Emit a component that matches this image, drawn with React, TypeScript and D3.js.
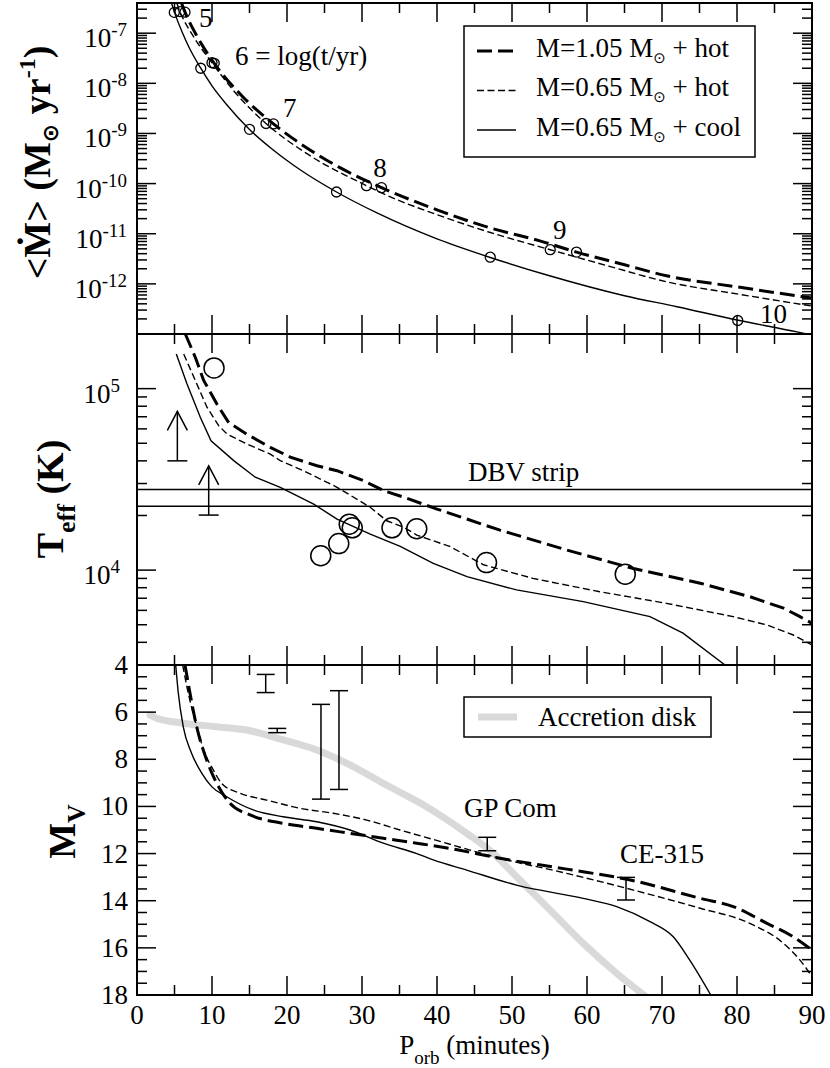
import React from 'react';
import * as d3 from 'd3';

// ---------------- DATA ----------------
// Top panel: <Mdot> (Msun/yr) vs P_orb (min)
const topThickP = [5.93, 6.4, 8, 10.3, 14, 18.2, 22.6, 27, 32.6, 40, 47, 53.7, 58.6, 65, 70.6, 80, 90];
const topThickM = [4.0e-7, 2.63e-7, 8.7e-8, 2.5e-8, 5.6e-9, 1.55e-9, 5.2e-10, 2.1e-10, 8.3e-11, 3.0e-11, 1.32e-11, 7.2e-12, 4.3e-12, 2.4e-12, 1.45e-12, 8.7e-13, 5.2e-13];
const topThinP = [5.3, 5.73, 7.5, 10, 13, 17.2, 22.6, 30.6, 33.7, 40, 47, 55.1, 63, 70.6, 80, 90];
const topThinM = [4.0e-7, 2.7e-7, 8.7e-8, 2.57e-8, 6.8e-9, 1.58e-9, 4.0e-10, 9.1e-11, 5.5e-11, 2.4e-11, 1.07e-11, 4.8e-12, 2.24e-12, 1.1e-12, 6.3e-13, 3.6e-13];
const topCoolP = [4.6, 5, 6, 7, 8.5, 10, 12, 15, 18, 22, 26.6, 32, 40, 47, 55, 65, 72, 80, 88, 90];
const topCoolM = [4.0e-7, 2.6e-7, 1.07e-7, 5.0e-8, 2.0e-8, 8.9e-9, 3.7e-9, 1.2e-9, 4.9e-10, 1.78e-10, 6.8e-11, 2.6e-11, 7.9e-12, 3.4e-12, 1.45e-12, 5.8e-13, 3.5e-13, 1.9e-13, 1.1e-13, 9.5e-14];
// time markers (log t = 5..10)
const markCoolP = [4.97, 8.5, 15, 26.6, 47.1, 80.1];
const markCoolM = [2.6e-7, 2.0e-8, 1.21e-9, 6.8e-11, 3.4e-12, 1.86e-13];
const markThinP = [5.73, 10, 17.2, 30.6, 55.1];
const markThinM = [2.7e-7, 2.57e-8, 1.58e-9, 9.1e-11, 4.8e-12];
const markThickP = [6.4, 10.3, 18.2, 32.6, 58.6];
const markThickM = [2.63e-7, 2.5e-8, 1.55e-9, 8.3e-11, 4.3e-12];
const timeLabels = ['5', '6 = log(t/yr)', '7', '8', '9', '10'];
const timeLabelP = [8.27, 13.07, 19.47, 31.5, 55.47, 83.07];
const timeLabelM = [1.33e-7, 2.3e-8, 2.16e-9, 1.37e-10, 7.9e-12, 1.65e-13];

// Middle panel: Teff (K)
const midThickP = [6.44, 7.77, 8.89, 10.67, 12.23, 14.67, 17.77, 20.44, 24.0, 26.67, 30.2, 32.9, 35.6, 40, 48.4, 57.3, 66.2, 75.1, 81.7, 86.2, 88.4, 90];
const midThickT = [2.0e5, 1.49e5, 1.11e5, 8.2e4, 6.5e4, 5.6e4, 4.75e4, 4.19e4, 3.76e4, 3.53e4, 3.11e4, 2.74e4, 2.52e4, 2.17e4, 1.66e4, 1.29e4, 1.02e4, 8.47e3, 7.14e3, 6.17e3, 5.54e3, 5.09e3];
const midThinP = [6.23, 7.77, 9.33, 10.89, 12.0, 14.67, 17.77, 19.1, 22.2, 26.67, 31.1, 33.3, 35.6, 37.3, 41.7, 46.2, 52.8, 61.7, 70.6, 79.5, 84.0, 87.5, 90];
const midThinT = [1.55e5, 1.11e5, 7.9e4, 6.25e4, 5.62e4, 4.95e4, 4.36e4, 4.01e4, 3.53e4, 2.86e4, 2.22e4, 1.87e4, 1.72e4, 1.56e4, 1.35e4, 1.07e4, 9.0e3, 7.6e3, 6.56e3, 5.54e3, 4.99e3, 4.39e3, 3.87e3];
const midCoolP = [5.24, 6.67, 8.44, 9.87, 12.9, 15.77, 19.1, 23.56, 26.67, 31.1, 35.1, 39.5, 44, 50.6, 59.5, 68.4, 72.8, 78.4];
const midCoolT = [1.55e5, 1.06e5, 6.95e4, 5.16e4, 4.01e4, 3.25e4, 2.86e4, 2.31e4, 1.91e4, 1.58e4, 1.35e4, 1.09e4, 9.2e3, 7.78e3, 6.7e3, 5.54e3, 4.49e3, 3.0e3];
const obsTP = [10.27, 24.5, 26.9, 28.3, 28.7, 34.0, 37.3, 46.6, 65.1];
const obsT = [1.30e5, 1.20e4, 1.40e4, 1.79e4, 1.71e4, 1.71e4, 1.69e4, 1.10e4, 9.5e3];
const limitP = [5.38, 9.56];
const limitT = [4.0e4, 2.01e4];
const limitTip = [7.5e4, 3.75e4];
const dbvStrip = [2.25e4, 2.78e4];

// Bottom panel: M_V
const botThickP = [6.4, 7.07, 7.96, 9.29, 10.63, 12.4, 15.07, 19.5, 23.96, 28.4, 32.84, 37.3, 41.7, 48.4, 57.3, 66.2, 75.1, 79.5, 84.0, 87.5, 90];
const botThickV = [4.0, 5.2, 6.62, 8.03, 9.02, 9.87, 10.36, 10.72, 10.93, 11.14, 11.35, 11.56, 11.78, 12.2, 12.66, 13.15, 13.9, 14.25, 14.96, 15.53, 16.09];
const botThinP = [6.09, 6.84, 7.96, 9.07, 10.17, 11.29, 13.73, 17.29, 21.73, 26.17, 30.63, 35.07, 39.5, 48.4, 57.3, 66.2, 75.1, 81.7, 86.2, 88.4, 90];
const botThinV = [4.0, 5.2, 6.62, 7.75, 8.45, 9.02, 9.44, 9.73, 10.08, 10.29, 10.58, 11.0, 11.4, 12.2, 12.84, 13.55, 14.32, 14.96, 15.81, 16.52, 17.22];
const botCoolP = [5.16, 5.51, 6.17, 7.29, 8.63, 9.96, 11.96, 15.5, 19.5, 23.96, 28.4, 32.84, 37.3, 39.5, 43.96, 50.6, 59.5, 63.96, 68.4, 71.5, 73.7, 76.5];
const botCoolV = [4.0, 5.2, 6.62, 7.75, 8.59, 9.16, 9.59, 10.15, 10.44, 10.65, 11.0, 11.56, 12.0, 12.27, 12.7, 13.34, 13.9, 14.25, 14.89, 15.53, 16.52, 18.0];
const diskP = [1.73, 2.63, 6.17, 10.63, 14.63, 19.5, 23.96, 28.4, 32.84, 35.07, 38.6, 43.96, 47.5, 50.6, 55.07, 59.5, 63.96, 68.0];
const diskV = [6.12, 6.26, 6.47, 6.62, 6.76, 7.18, 7.61, 8.24, 9.02, 9.4, 10.01, 11.14, 11.99, 12.98, 14.39, 15.81, 17.08, 18.1];
const errP = [17.16, 18.7, 24.53, 26.93, 46.7, 65.2];
const errLo = [4.40, 6.69, 5.67, 5.09, 11.31, 13.01];
const errHi = [5.17, 6.87, 9.69, 9.28, 11.88, 13.97];
const objNames = ['GP Com', 'CE-315'];
const objLabelP = [43.6, 64.4];
const objLabelV = [10.44, 12.39];

// Axis ticks
const xMajor = [0, 10, 20, 30, 40, 50, 60, 70, 80, 90];
const xMinor = [5, 15, 25, 35, 45, 55, 65, 75, 85];
const topExp = [-7, -8, -9, -10, -11, -12];
const midExp = [5, 4];
const botMajor = [4, 6, 8, 10, 12, 14, 16, 18];

const legendTop = [
  { mass: '1.05', kind: 'hot', style: 'thick' },
  { mass: '0.65', kind: 'hot', style: 'thin' },
  { mass: '0.65', kind: 'cool', style: 'solid' },
];

const FONT = '"Liberation Serif", "Times New Roman", Times, serif';
const SUN = '"DejaVu Sans", sans-serif';

const styles: Record<string, any> = {
  thick: { stroke: '#000', strokeWidth: 3, strokeDasharray: '15 6', fill: 'none' },
  thin: { stroke: '#000', strokeWidth: 1.4, strokeDasharray: '7 3.5', fill: 'none' },
  solid: { stroke: '#000', strokeWidth: 1.4, fill: 'none' },
};

const X0 = 137, X1 = 812;
const PANELS = [[3, 334], [334, 665], [665, 995]];

export default function App() {
  const x = d3.scaleLinear().domain([0, 90]).range([X0, X1]);
  const yTop = d3.scaleLog().domain([1e-13, 4e-7]).range([334, 3]);
  const yMid = d3.scaleLog().domain([3000, 2e5]).range([665, 334]);
  const yBot = d3.scaleLinear().domain([4, 18]).range([665, 995]);

  const mk = (ps: number[], vs: number[], y: any, curve: any) =>
    d3.line<number>().x((_, i) => x(ps[i])).y((v) => y(v)).curve(curve)(vs) as string;

  const logMinor = (lo: number, hi: number, e0: number, e1: number) => {
    const out: number[] = [];
    for (let e = e0; e <= e1; e++) for (let m = 2; m <= 9; m++) {
      const v = m * Math.pow(10, e);
      if (v > lo * 1.0001 && v < hi * 0.9999) out.push(v);
    }
    return out;
  };
  const topMinor = logMinor(1e-13, 4e-7, -13, -7);
  const midMinor = logMinor(3000, 2e5, 3, 5);
  const botMinor = d3.range(4.5, 18, 0.5).filter((v) => Math.abs(v % 2) > 0.01);

  const tickEls: any[] = [];
  const MJ = 19, MN = 10;
  PANELS.forEach(([t, b], pi) => {
    xMajor.concat(xMinor).forEach((v) => {
      const L = xMajor.includes(v) ? MJ : MN;
      if (v === 0 || v === 90) return;
      tickEls.push(<line key={`xt${pi}-${v}`} x1={x(v)} x2={x(v)} y1={t} y2={t + L} />);
      tickEls.push(<line key={`xb${pi}-${v}`} x1={x(v)} x2={x(v)} y1={b} y2={b - L} />);
    });
  });
  const yTicks = (vals: number[], y: any, L: number, key: string) =>
    vals.map((v) => (
      <g key={`${key}${v}`}>
        <line x1={X0} x2={X0 + L} y1={y(v)} y2={y(v)} />
        <line x1={X1} x2={X1 - L} y1={y(v)} y2={y(v)} />
      </g>
    ));

  return (
    <svg width={830} height={1068} viewBox="0 0 830 1068"
      style={{ display: 'block', position: 'absolute', left: 0, top: 0, background: '#fff', fontFamily: FONT }}
      fontFamily={FONT}>
      <rect x={0} y={0} width={830} height={1068} fill="#fff" />
      <defs>
        {PANELS.map(([t, b], i) => (
          <clipPath key={i} id={`clip${i}`}>
            <rect x={X0} y={t} width={X1 - X0} height={b - t} />
          </clipPath>
        ))}
      </defs>

      {/* ---------- TOP PANEL ---------- */}
      <g clipPath="url(#clip0)">
        <path d={mk(topThickP, topThickM, yTop, d3.curveMonotoneX)} {...styles.thick} />
        <path d={mk(topThinP, topThinM, yTop, d3.curveMonotoneX)} {...styles.thin} />
        <path d={mk(topCoolP, topCoolM, yTop, d3.curveMonotoneX)} {...styles.solid} />
        {[[markCoolP, markCoolM], [markThinP, markThinM], [markThickP, markThickM]].map(([ps, ms], k) =>
          ps.map((p, i) => (
            <circle key={`m${k}-${i}`} cx={x(p)} cy={yTop(ms[i])} r={5} fill="none" stroke="#000" strokeWidth={1.3} />
          ))
        )}
      </g>
      {timeLabels.map((s, i) => (
        <text key={`tl${i}`} x={x(timeLabelP[i])} y={yTop(timeLabelM[i])} fontSize={27}>{s}</text>
      ))}
      {/* legend */}
      <rect x={464} y={26} width={291} height={131} fill="#fff" stroke="#000" strokeWidth={1.5} />
      {legendTop.map((e, i) => (
        <g key={`lg${i}`}>
          <line x1={477} x2={516} y1={51 + i * 39.5} y2={51 + i * 39.5} {...styles[e.style]} />
          <text x={536} y={56.5 + i * 39.7} fontSize={27}>
            {`M=${e.mass} M`}
            <tspan dy={6} fontSize={15} fontFamily={SUN}>⊙</tspan>
            <tspan dy={-6}>{` + ${e.kind}`}</tspan>
          </text>
        </g>
      ))}

      {/* ---------- MIDDLE PANEL ---------- */}
      <g clipPath="url(#clip1)">
        {dbvStrip.map((v) => (
          <line key={`dbv${v}`} x1={X0} x2={X1} y1={yMid(v)} y2={yMid(v)} stroke="#000" strokeWidth={1.4} />
        ))}
        <path d={mk(midThickP, midThickT, yMid, d3.curveLinear)} {...styles.thick} />
        <path d={mk(midThinP, midThinT, yMid, d3.curveLinear)} {...styles.thin} />
        <path d={mk(midCoolP, midCoolT, yMid, d3.curveLinear)} {...styles.solid} />
        {obsTP.map((p, i) => (
          <circle key={`ob${i}`} cx={x(p)} cy={yMid(obsT[i])} r={10} fill="none" stroke="#000" strokeWidth={1.5} />
        ))}
        {limitP.map((p, i) => {
          const cx = x(p), yb = yMid(limitT[i]), yt = yMid(limitTip[i]);
          return (
            <g key={`lim${i}`} stroke="#000" strokeWidth={1.5} fill="none">
              <line x1={cx - 10} x2={cx + 10} y1={yb} y2={yb} />
              <line x1={cx} x2={cx} y1={yb} y2={yt} />
              <polyline points={`${cx - 10},${yt + 19} ${cx},${yt} ${cx + 10},${yt + 19}`} />
            </g>
          );
        })}
      </g>
      <text x={468} y={480.5} fontSize={27}>DBV strip</text>

      {/* ---------- BOTTOM PANEL ---------- */}
      <g clipPath="url(#clip2)">
        <path d={mk(diskP, diskV, yBot, d3.curveMonotoneX)} stroke="#d9d9d9" strokeWidth={7} fill="none" strokeLinecap="round" />
        <path d={mk(botThickP, botThickV, yBot, d3.curveMonotoneX)} {...styles.thick} />
        <path d={mk(botThinP, botThinV, yBot, d3.curveMonotoneX)} {...styles.thin} />
        <path d={mk(botCoolP, botCoolV, yBot, d3.curveMonotoneX)} {...styles.solid} />
        {errP.map((p, i) => (
          <g key={`eb${i}`} stroke="#000" strokeWidth={1.5}>
            <line x1={x(p)} x2={x(p)} y1={yBot(errLo[i])} y2={yBot(errHi[i])} />
            <line x1={x(p) - 9} x2={x(p) + 9} y1={yBot(errLo[i])} y2={yBot(errLo[i])} />
            <line x1={x(p) - 9} x2={x(p) + 9} y1={yBot(errHi[i])} y2={yBot(errHi[i])} />
          </g>
        ))}
      </g>
      {objNames.map((s, i) => (
        <text key={s} x={x(objLabelP[i])} y={yBot(objLabelV[i])} fontSize={27}>{s}</text>
      ))}
      <rect x={464} y={697} width={247} height={40} fill="#fff" stroke="#000" strokeWidth={1.5} />
      <line x1={478} x2={517} y1={717} y2={717} stroke="#d9d9d9" strokeWidth={7} />
      <text x={538} y={726} fontSize={27}>Accretion disk</text>

      {/* ---------- TICKS & FRAMES ---------- */}
      <g stroke="#000" strokeWidth={1.5}>
        {tickEls}
        {yTicks(topExp.map((e) => Math.pow(10, e)), yTop, MJ, 'tM')}
        {yTicks(topMinor, yTop, MN, 'tm')}
        {yTicks(midExp.map((e) => Math.pow(10, e)), yMid, MJ, 'mM')}
        {yTicks(midMinor, yMid, MN, 'mm')}
        {yTicks(botMajor, yBot, MJ, 'bM')}
        {yTicks(botMinor, yBot, MN, 'bm')}
      </g>
      {PANELS.map(([t, b], i) => (
        <rect key={`fr${i}`} x={X0} y={t} width={X1 - X0} height={b - t} fill="none" stroke="#000" strokeWidth={2} />
      ))}

      {/* tick labels */}
      {topExp.map((e) => (
        <text key={`tlab${e}`} x={127} y={yTop(Math.pow(10, e)) + 14} textAnchor="end" fontSize={27}>
          10<tspan dy={-11} fontSize={19}>{`${e}`}</tspan>
        </text>
      ))}
      {midExp.map((e) => (
        <text key={`mlab${e}`} x={120} y={yMid(Math.pow(10, e)) + 14} textAnchor="end" fontSize={27}>
          10<tspan dy={-11} fontSize={19}>{`${e}`}</tspan>
        </text>
      ))}
      {botMajor.map((v) => (
        <text key={`blab${v}`} x={128} y={yBot(v) + 9} textAnchor="end" fontSize={27}>{v}</text>
      ))}
      {xMajor.map((v) => (
        <text key={`xlab${v}`} x={x(v)} y={1024} textAnchor="middle" fontSize={27}>{v}</text>
      ))}

      {/* axis titles */}
      <text x={474.5} y={1054} textAnchor="middle" fontSize={27}>
        P<tspan dy={10} fontSize={19}>orb</tspan>
        <tspan dy={-10}> (minutes)</tspan>
      </text>
      <text transform="translate(50,162.5) rotate(-90)" textAnchor="middle" fontSize={38} fontWeight="bold">
        {'<Ṁ> (M'}
        <tspan dy={8} fontSize={22} fontFamily={SUN}>⊙</tspan>
        <tspan dy={-8}>{' yr'}</tspan>
        <tspan dy={-15} fontSize={24}>-1</tspan>
        <tspan dy={15}>)</tspan>
      </text>
      <text transform="translate(63,499) rotate(-90)" textAnchor="middle" fontSize={38} fontWeight="bold">
        T<tspan dy={12} fontSize={26}>eff</tspan>
        <tspan dy={-12}> (K)</tspan>
      </text>
      <text transform="translate(75,831.5) rotate(-90)" textAnchor="middle" fontSize={38} fontWeight="bold">
        M<tspan dy={10} fontSize={26}>V</tspan>
      </text>
    </svg>
  );
}
